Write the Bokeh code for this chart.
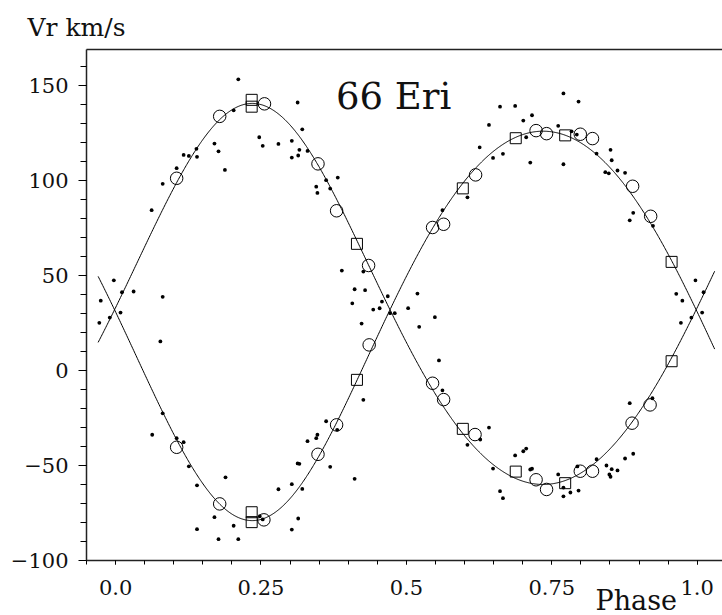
import numpy as np
from bokeh.plotting import figure
from bokeh.models import Range1d, Label, LinearAxis, SingleIntervalTicker, FixedTicker, Title
from bokeh.embed import file_html
from bokeh.resources import INLINE

# ---------------- data ----------------
dots_phase = [0.997, 0.011, 0.031, 0.9745, 0.081, 0.0085, 0.990, 0.972, 0.077, 0.964,
              0.062, 0.081, 0.105, 0.117, 0.126, 0.139, 0.140, 0.170, 0.177, 0.188,
              0.203, 0.211, 0.247, 0.253, 0.280, 0.313, 0.321, 0.303, 0.316, 0.330,
              0.314, 0.303, 0.362, 0.382, 0.345, 0.369, 0.347, 0.389, 0.426, 0.411,
              0.429, 0.468, 0.519, 0.407, 0.458, 0.443, 0.454, 0.472, 0.480, 0.503,
              0.549, 0.522, 0.423, 0.556, 0.562, 0.426, 0.362, 0.381, 0.347, 0.345,
              0.330, 0.313, 0.316, 0.369, 0.411, 0.303, 0.280, 0.321, 0.314, 0.303,
              0.081, 0.063, 0.105, 0.117, 0.126, 0.140, 0.189, 0.170, 0.140, 0.203,
              0.177, 0.211, 0.248, 0.253,
              0.642, 0.626, 0.605, 0.562, 0.770, 0.796, 0.661, 0.687, 0.716, 0.701,
              0.761, 0.706, 0.784, 0.793, 0.649, 0.666, 0.713, 0.770, 0.827, 0.851,
              0.853, 0.842, 0.848, 0.863, 0.876, 0.890, 0.884, 0.924,
              0.642, 0.627, 0.605, 0.923, 0.884, 0.890, 0.876, 0.827, 0.844, 0.853,
              0.863, 0.849, 0.851, 0.794, 0.770, 0.782, 0.796, 0.770, 0.761, 0.687,
              0.701, 0.706, 0.713, 0.716, 0.649, 0.661, 0.666]
dots_vr = [47.5, 41.2, 41.6, 36.8, 38.8, 30.5, 27.9, 25.1, 15.3, 40.4,
           84.4, 98.3, 106.5, 113.5, 113.0, 116.7, 112.5, 119.5, 115.4, 105.6,
           137.0, 153.3, 122.8, 118.3, 119.3, 141.1, 127.0, 120.9, 116.2, 115.6,
           113.2, 112.1, 100.2, 101.6, 96.8, 95.8, 93.5, 52.6, 52.1, 42.8,
           42.3, 39.1, 40.5, 35.4, 36.3, 32.1, 32.8, 30.2, 30.2, 32.8,
           28.1, 23.0, 24.7, 5.3, -10.4, -15.4, -26.7, -31.2, -33.8, -35.6,
           -37.2, -48.9, -49.1, -50.7, -57.0, -59.8, -62.5, -62.3, -77.9, -83.7,
           -22.5, -33.8, -35.6, -37.7, -50.4, -60.4, -56.2, -77.2, -83.5, -81.7,
           -88.8, -88.8, -76.7, -78.4,
           129.3, 117.5, 91.2, 84.4, 145.9, 141.6, 138.9, 139.3, 134.4, 131.6,
           128.8, 122.8, 125.9, 124.2, 111.9, 114.1, 109.5, 108.6, 114.2, 116.2,
           110.7, 104.4, 103.8, 105.3, 104.1, 83.0, 79.1, 76.2,
           -30.0, -36.3, -39.1, -14.6, -17.2, -43.8, -46.3, -46.7, -50.0, -51.9,
           -52.6, -54.7, -55.9, -50.5, -61.6, -64.2, -63.2, -66.2, -54.7, -44.7,
           -42.5, -41.1, -52.1, -51.7, -51.6, -63.5, -67.2]

circles_phase = [0.105, 0.105, 0.179, 0.179, 0.256, 0.255, 0.348, 0.348, 0.380, 0.380,
                 0.435, 0.436, 0.545, 0.545, 0.564, 0.564, 0.619, 0.618, 0.723, 0.723,
                 0.741, 0.741, 0.799, 0.799, 0.820, 0.820, 0.889, 0.888, 0.920, 0.919]
circles_vr = [101.2, -40.4, 133.8, -70.2, 140.4, -78.6, 108.8, -44.1, 84.1, -28.6,
              55.3, 13.5, 75.3, -6.7, 77.0, -15.3, 103.0, -33.7, 126.3, -57.5,
              124.7, -62.6, 124.4, -53.0, 122.1, -53.0, 97.0, -27.7, 81.2, -18.1]

squares_phase = [0.234, 0.234, 0.234, 0.234, 0.415, 0.415, 0.597, 0.597,
                 0.688, 0.688, 0.773, 0.773, 0.956, 0.956]
squares_vr = [142.5, 138.9, -74.6, -79.8, 66.7, -4.9, 95.9, -30.7,
              122.3, -53.2, 123.8, -59.3, 57.2, 4.9]

# fitted orbit (elements estimated from the drawn curves)
GAMMA = 32.0
K1 = 100.3
K2 = 102.5
ECC = 0.083
OMEGA_DEG = 0.0
T_PERI = 0.235

x_tick_values = [0.0, 0.25, 0.5, 0.75, 1.0]
x_tick_labels = ["0.0", "0.25", "0.5", "0.75", "1.0"]
y_tick_values = [-100, -50, 0, 50, 100, 150]
y_tick_labels = ["\u2212100", "\u221250", "0", "50", "100", "150"]

title_text = "66 Eri"
ylabel_text = "Vr km/s"
xlabel_text = "Phase"

# ---------------- helpers ----------------
def kepler_rv(phase, K, omega):
    M = 2 * np.pi * (phase - T_PERI)
    E = M.copy()
    for _ in range(50):
        E = M + ECC * np.sin(E)
    nu = 2 * np.arctan2(np.sqrt(1 + ECC) * np.sin(E / 2), np.sqrt(1 - ECC) * np.cos(E / 2))
    return GAMMA + K * (np.cos(nu + omega) + ECC * np.cos(omega))


def wrap(ph, v, w=0.03):
    ph = np.asarray(ph, dtype=float)
    v = np.asarray(v, dtype=float)
    lo = ph > 1 - w
    hi = ph < w
    return (np.concatenate([ph, ph[lo] - 1, ph[hi] + 1]),
            np.concatenate([v, v[lo], v[hi]]))


FONT = "DejaVu Serif"

p = figure(width=722, height=615,
           x_range=Range1d(-0.05, 1.0435), y_range=Range1d(-100, 169),
           output_backend="svg", toolbar_location=None,
           x_axis_type=None, y_axis_type=None,
           min_border_left=86, min_border_right=0,
           min_border_top=49, min_border_bottom=55)
p.outline_line_color = None
p.background_fill_color = "white"
p.border_fill_color = "white"

xaxis = LinearAxis(ticker=SingleIntervalTicker(interval=0.25, num_minor_ticks=5))
xaxis.major_label_overrides = dict(zip(x_tick_values, x_tick_labels))
xaxis.major_tick_in = 0
xaxis.major_tick_out = 4
xaxis.minor_tick_in = 0
xaxis.minor_tick_out = 4
xaxis.major_label_standoff = 15
p.add_layout(xaxis, "below")

yaxis = LinearAxis(ticker=SingleIntervalTicker(interval=50, num_minor_ticks=5))
yaxis.major_label_overrides = dict(zip(y_tick_values, y_tick_labels))
yaxis.major_tick_in = 0
yaxis.major_tick_out = 8
yaxis.minor_tick_in = 0
yaxis.minor_tick_out = 6
yaxis.major_label_standoff = 10
p.add_layout(yaxis, "left")

for ax in (xaxis, yaxis):
    ax.major_label_text_font = FONT
    ax.major_label_text_font_size = "21px"
    ax.major_label_text_color = "#111111"
    ax.axis_line_color = "#222222"
    ax.axis_line_width = 1.5
    ax.major_tick_line_color = "black"
    ax.minor_tick_line_color = "black"
    ax.major_tick_line_width = 1
    ax.minor_tick_line_width = 1

top = LinearAxis(ticker=FixedTicker(ticks=[]), major_tick_out=0, minor_tick_out=0,
                 major_tick_in=0, minor_tick_in=0, major_label_text_font_size="0px",
                 axis_line_color="#222222", axis_line_width=1.5, major_label_standoff=0)
p.add_layout(top, "above")

# axis titles (side-panel titles are not clipped to the frame)
p.add_layout(Title(text=ylabel_text, align="left", offset=-59, standoff=16,
                   vertical_align="bottom", text_font=FONT, text_font_size="25px",
                   text_font_style="normal", text_color="#111111"), "above")
p.add_layout(Title(text=xlabel_text, align="left", offset=509, standoff=-25,
                   vertical_align="top", text_font=FONT, text_font_size="27px",
                   text_font_style="normal", text_color="#111111"), "below")

# model curves
ph_curve = np.linspace(-0.03, 1.03, 800)
om = np.radians(OMEGA_DEG)
p.line(ph_curve, kepler_rv(ph_curve, K1, om), line_color="black", line_width=1)
p.line(ph_curve, kepler_rv(ph_curve, K2, om + np.pi), line_color="black", line_width=1)

dx, dy = wrap(dots_phase, dots_vr)
p.scatter(dx, dy, marker="circle", size=3.8, fill_color="black", line_color=None)
cx, cy = wrap(circles_phase, circles_vr)
p.scatter(cx, cy, marker="circle", size=12.5, fill_color=None, line_color="black", line_width=1)
sx, sy = wrap(squares_phase, squares_vr)
p.scatter(sx, sy, marker="square", size=11, fill_color=None, line_color="black", line_width=1)

p.add_layout(Label(x=0.478, y=144.4, text=title_text, text_font=FONT,
                   text_font_size="37px", text_align="center", text_baseline="alphabetic",
                   text_color="#111111"))

open("out.html", "w").write(file_html(p, INLINE))
